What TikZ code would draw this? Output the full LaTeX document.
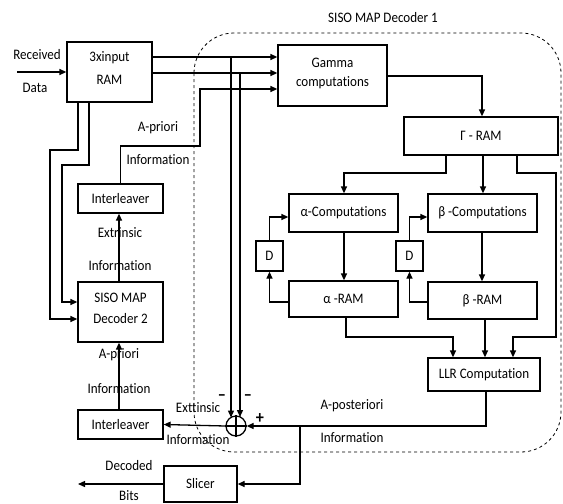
\documentclass[tikz,border=0pt]{standalone}
\usepackage{fontspec}
\setmainfont{Carlito}[FakeStretch=0.9,Ligatures=NoCommon]
\usetikzlibrary{arrows.meta,calc}
\begin{document}
\begin{tikzpicture}[x=1pt,y=-1pt,
  font=\fontsize{14.5}{16}\selectfont,
  box/.style={draw,line width=1.3pt,inner sep=0pt,align=center},
  conn/.style={line width=1.3pt},
  arr/.style={line width=1.3pt,-{Triangle[length=7pt,width=6pt]}},
  lbl/.style={inner sep=0pt,align=center},
  sgn/.style={inner sep=0pt,font=\fontsize{18}{18}\selectfont\bfseries}]
\useasboundingbox (0,0) rectangle (563,504);
% dashed decoder region
\draw[dashed,line width=0.8pt,rounded corners=40pt] (194,33) rectangle (561,452);
\node[lbl] (t1) at (383,18) {SISO MAP Decoder 1};
% boxes
\node[box,minimum width=85pt,minimum height=60pt] (ram) at (109.5,72) {};
\node[lbl] (ramt1) at (109.5,58) {3xinput};
\node[lbl] (ramt2) at (109.5,80) {RAM};
\node[box,minimum width=109pt,minimum height=61pt] (gamma) at (332.5,75.5) {};
\node[lbl] (gt1) at (332.5,63) {Gamma};
\node[lbl] (gt2) at (332.5,83) {computations};
\node[box,minimum width=154pt,minimum height=38pt] (gram) at (481,136) {Γ - RAM};
\node[box,minimum width=109pt,minimum height=38pt] (acomp) at (343.5,213) {α-Computations};
\node[box,minimum width=109pt,minimum height=38pt] (bcomp) at (482.5,213) {β -Computations};
\node[box,minimum width=27pt,minimum height=30pt] (d1) at (269.5,256) {D};
\node[box,minimum width=27pt,minimum height=30pt] (d2) at (409.5,256) {D};
\node[box,minimum width=109pt,minimum height=36pt] (aram) at (343.5,299) {α -RAM};
\node[box,minimum width=109pt,minimum height=37pt] (bram) at (482.5,300.5) {β -RAM};
\node[box,minimum width=112pt,minimum height=33pt] (llr) at (484,374.5) {LLR Computation};
\node[box,minimum width=85pt,minimum height=29pt] (int1) at (120.5,198.5) {Interleaver};
\node[box,minimum width=85pt,minimum height=60pt] (dec2) at (120.5,312) {};
\node[lbl] (dt1) at (120.5,298) {SISO MAP};
\node[lbl] (dt2) at (120.5,319) {Decoder 2};
\node[box,minimum width=85pt,minimum height=29pt] (int2) at (120.5,424.5) {Interleaver};
\node[box,minimum width=73pt,minimum height=36pt] (slicer) at (200.5,484) {Slicer};
\node[draw,circle,line width=1.3pt,minimum size=20pt,inner sep=0pt] (xor) at (236,426) {};
\draw[line width=1.1pt] (xor.north) -- (xor.south) (xor.west) -- (xor.east);
% labels
\node[lbl] (l1) at (37,55) {Received};
\node[lbl] (l2) at (35,88) {Data};
\node[lbl] (l3) at (158,128) {A-priori};
\node[lbl] (l4) at (158,160) {Information};
\node[lbl] (l5) at (120,233) {Extrinsic};
\node[lbl] (l6) at (120,266) {Information};
\node[lbl] (l7) at (119,355) {A-priori};
\node[lbl] (l8) at (119,389) {Information};
\node[lbl] (l9) at (198,408) {Exttinsic};
\node[lbl] (l10) at (198,440) {Information};
\node[lbl] (l11) at (352,406) {A-posteriori};
\node[lbl] (l12) at (352,438) {Information};
\node[lbl] (l13) at (129,466) {Decoded};
\node[lbl] (l14) at (129,496) {Bits};
\node[sgn] (pl) at (260,419) {+};
\node[sgn] (m1) at (222,398) {–};
\node[sgn] (m2) at (248,398) {–};
% connectors
\coordinate (rin) at (17,72);
\draw[arr] (rin) -- (ram.west);
\draw[arr] (ram.east |- 0,57) -- (gamma.west |- 0,57);
\draw[arr] (ram.east |- 0,73) -- (gamma.west |- 0,73);
\draw[arr] (int1.north) -- (120.5,146) -- (200,146) -- (200,89) -- (gamma.west |- 0,89);
\coordinate (x1) at (231,417.5);
\coordinate (x2) at (240,417);
\draw[arr] (231,57) -- (x1);
\draw[arr] (240,73) -- (x2);
\draw[arr] (ram.south -| 78,0) -- (78,150) -- (50,150) -- (50,319) -- (dec2.west |- 0,319);
\draw[arr] (ram.south -| 89,0) -- (89,165) -- (62,165) -- (62,302) -- (dec2.west |- 0,302);
\draw[arr] (dec2.north -| 119,0) -- (int1.south -| 119,0);
\draw[arr] (int2.north -| 119,0) -- (dec2.south -| 119,0);
\draw[arr] (xor.west) -- (int2.east);
\draw[arr] (gamma.east |- 0,76) -- (482,76) -- (gram.north -| 482,0);
\draw[arr] (gram.south -| 446,0) -- (446,173) -- (344,173) -- (acomp.north -| 344,0);
\draw[arr] (gram.south -| 483,0) -- (bcomp.north -| 483,0);
\draw[arr] (gram.south -| 517,0) -- (517,173) -- (556,173) -- (556,337) -- (513,337) -- (llr.north -| 513,0);
\draw[arr] (acomp.south -| 344,0) -- (aram.north -| 344,0);
\draw[arr] (bcomp.south -| 482,0) -- (bram.north -| 482,0);
\draw[arr] (aram.west |- 0,302) -- (269.5,302) -- (d1.south);
\draw[arr] (d1.north) -- (269.5,217) -- (acomp.west |- 0,217);
\draw[arr] (bram.west |- 0,302) -- (409.5,302) -- (d2.south);
\draw[arr] (d2.north) -- (409.5,217) -- (bcomp.west |- 0,217);
\draw[arr] (aram.south -| 346,0) -- (346,337) -- (453,337) -- (llr.north -| 453,0);
\draw[arr] (bram.south -| 485,0) -- (llr.north -| 485,0);
\draw[arr] (llr.south -| 486,0) -- (486,426) -- (xor.east);
\draw[arr] (300,426) -- (300,484) -- (slicer.east);
\coordinate (bout) at (78,484);
\draw[arr] (slicer.west) -- (bout);
\end{tikzpicture}
\end{document}
